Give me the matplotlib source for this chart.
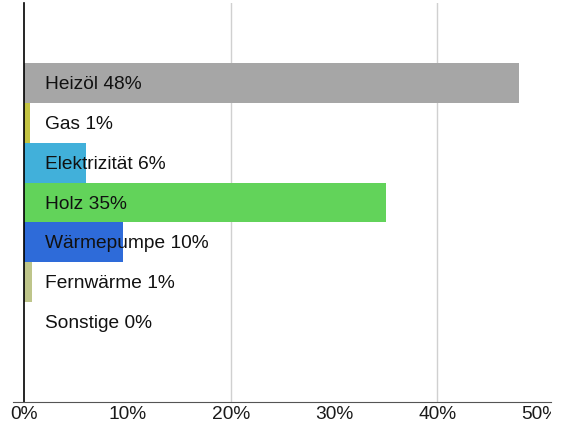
import matplotlib.pyplot as plt
from matplotlib.transforms import Bbox

plt.rcParams['font.family'] = ['Liberation Sans', 'DejaVu Sans']

categories = ["Heizöl", "Gas", "Elektrizität", "Holz", "Wärmepumpe", "Fernwärme", "Sonstige"]
values = [47.9, 0.6, 6.0, 35.0, 9.6, 0.8, 0.0]
shown = [48, 1, 6, 35, 10, 1, 0]
colors = ["#a6a6a6", "#c3c443", "#41b0da", "#62d35a", "#2e6bd9", "#bec58a", "#cccccc"]
ticks = [0, 10, 20, 30, 40, 50]

fig = plt.figure(figsize=(5.71, 4.29), dpi=100)
ax = fig.add_axes([24 / 571, 1 - 402 / 429, 527 / 571, 399 / 429])

pos = list(range(len(categories)))
ax.barh(pos, values, height=1.0, color=colors, zorder=2)
for i, (c, s) in enumerate(zip(categories, shown)):
    ax.text(2.05, i + 0.04, f"{c} {s}%", va="center", ha="left", fontsize=13.8, color="#111111", zorder=3)

ax.set_xlim(0, 51)
ax.set_ylim(8, -2)
ax.set_yticks([])
ax.set_xticks(ticks)
ax.set_xticklabels([f"{t}%" for t in ticks], fontsize=13.8, color="#1a1a1a")
ax.tick_params(axis="x", length=0, pad=3)

for g in [20, 40]:
    ax.axvline(g, color="#d0d0d0", lw=1, zorder=1)

for s in ["top", "right"]:
    ax.spines[s].set_visible(False)
ax.spines["left"].set_color("black")
ax.spines["left"].set_linewidth(1.2)
ax.spines["bottom"].set_color("#555555")
ax.spines["bottom"].set_bounds(-1.05, 51)

# 50% label is cut off at the axis end in the original
fig.canvas.draw()
clip = Bbox.from_extents(0, 0, 551, 429)
for lab in ax.get_xticklabels():
    lab.set_clip_box(clip)
    lab.set_clip_on(True)

fig.savefig("out.png", dpi=100)
